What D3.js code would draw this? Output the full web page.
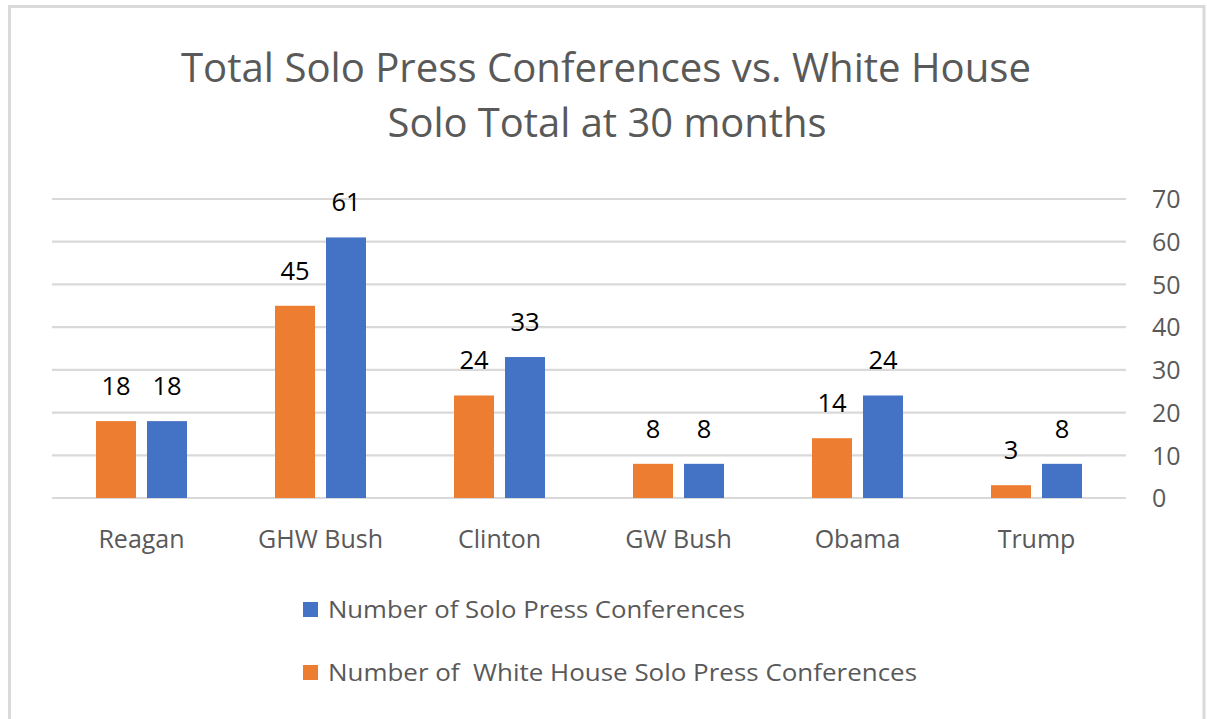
<!DOCTYPE html>
<html>
<head>
<meta charset="utf-8">
<script src="https://cdn.jsdelivr.net/npm/d3@7"></script>
<style>
  html, body { margin: 0; padding: 0; background: #fff; }
  svg { display: block; }
  text { font-family: "Open Sans", "Noto Sans", sans-serif; }
</style>
</head>
<body>
<svg id="chart" width="1207" height="719"></svg>
<script>
// Presidents compared at 30 months into their terms
const categories = ["Reagan", "GHW Bush", "Clinton", "GW Bush", "Obama", "Trump"];
const soloTotal = [18, 61, 33, 8, 24, 8];
const whiteHouseSolo = [18, 45, 24, 8, 14, 3];
const yTicks = [0, 10, 20, 30, 40, 50, 60, 70];
const titleLines = ["Total Solo Press Conferences vs. White House", "Solo Total at 30 months"];
const seriesNames = ["Number of Solo Press Conferences", "Number of  White House Solo Press Conferences"];

const W = 1207, H = 719;
const svg = d3.select("#chart");

const orange = "#ED7D31", blue = "#4472C4", grid = "#d9d9d9", textGray = "#595959";

// frame
svg.append("rect").attr("x", 9.5).attr("y", 6.5).attr("width", W - 12.5).attr("height", H + 10)
  .attr("fill", "#fff").attr("stroke", grid).attr("stroke-width", 3);

// title
svg.append("text").attr("x", 606).attr("y", 82).attr("text-anchor", "middle")
  .attr("fill", textGray).style("font-size", "41px")
  .attr("textLength", 850).attr("lengthAdjust", "spacingAndGlyphs")
  .text(titleLines[0]);
svg.append("text").attr("x", 607).attr("y", 137).attr("text-anchor", "middle")
  .attr("fill", textGray).style("font-size", "41px")
  .attr("textLength", 439).attr("lengthAdjust", "spacingAndGlyphs")
  .text(titleLines[1]);

// scales
const x = d3.scaleBand().domain(categories).range([52, 1126]).paddingInner(0).paddingOuter(0);
const series = ["wh", "solo"];
const step = x.bandwidth();
const inner = d3.scaleBand().domain(series).range([step / 2 - 45.5, step / 2 + 45.5]).paddingInner(0.2157);
const y = d3.scaleLinear().domain([0, 70]).range([498, 199]);

// gridlines
svg.append("g").selectAll("line").data(yTicks).join("line")
  .attr("x1", 52).attr("x2", 1126)
  .attr("y1", d => y(d)).attr("y2", d => y(d))
  .attr("stroke", grid).attr("stroke-width", 2.2);

// right value axis
const yAxis = d3.axisRight(y).tickValues(yTicks).tickSize(0).tickPadding(0);
const ag = svg.append("g").attr("transform", "translate(1152,0)").call(yAxis);
ag.select(".domain").remove();
ag.selectAll("text").attr("fill", textGray).style("font-size", "25px")
  .attr("dy", "0.35em").attr("text-anchor", "start");

// bars
const rows = categories.map((c, i) => ({ c, wh: whiteHouseSolo[i], solo: soloTotal[i] }));
const groups = svg.append("g").selectAll("g").data(rows).join("g")
  .attr("transform", d => `translate(${x(d.c)},0)`);
const color = { wh: orange, solo: blue };
groups.selectAll("rect").data(d => series.map(k => ({ k, v: d[k] }))).join("rect")
  .attr("x", d => inner(d.k)).attr("width", inner.bandwidth())
  .attr("y", d => y(d.v)).attr("height", d => y(0) - y(d.v))
  .attr("fill", d => color[d.k]);
groups.selectAll("text.val").data(d => series.map(k => ({ k, v: d[k] }))).join("text")
  .attr("class", "val")
  .attr("x", d => inner(d.k) + inner.bandwidth() / 2)
  .attr("y", d => y(d.v) - 26)
  .attr("text-anchor", "middle").attr("fill", "#000")
  .style("font-size", "25.5px").style("font-weight", "500")
  .text(d => d.v);

// category axis labels
const xAxis = d3.axisBottom(x).tickSize(0).tickPadding(0);
const xg = svg.append("g").attr("transform", "translate(0,548)").call(xAxis);
xg.select(".domain").remove();
xg.selectAll("text").attr("fill", textGray).style("font-size", "25px").attr("dy", "0");

// legend
const legend = svg.append("g");
const legendItems = [
  { name: seriesNames[0], color: blue, y: 610, len: 417 },
  { name: seriesNames[1], color: orange, y: 673, len: 589 }
];
legendItems.forEach(it => {
  legend.append("rect").attr("x", 303).attr("y", it.y - 8).attr("width", 15).attr("height", 15).attr("fill", it.color);
  legend.append("text").attr("x", 328).attr("y", it.y + 8).attr("fill", textGray)
    .style("font-size", "24px").attr("textLength", it.len).attr("lengthAdjust", "spacingAndGlyphs")
    .style("white-space", "pre").attr("xml:space", "preserve")
    .text(it.name);
});
</script>
</body>
</html>
